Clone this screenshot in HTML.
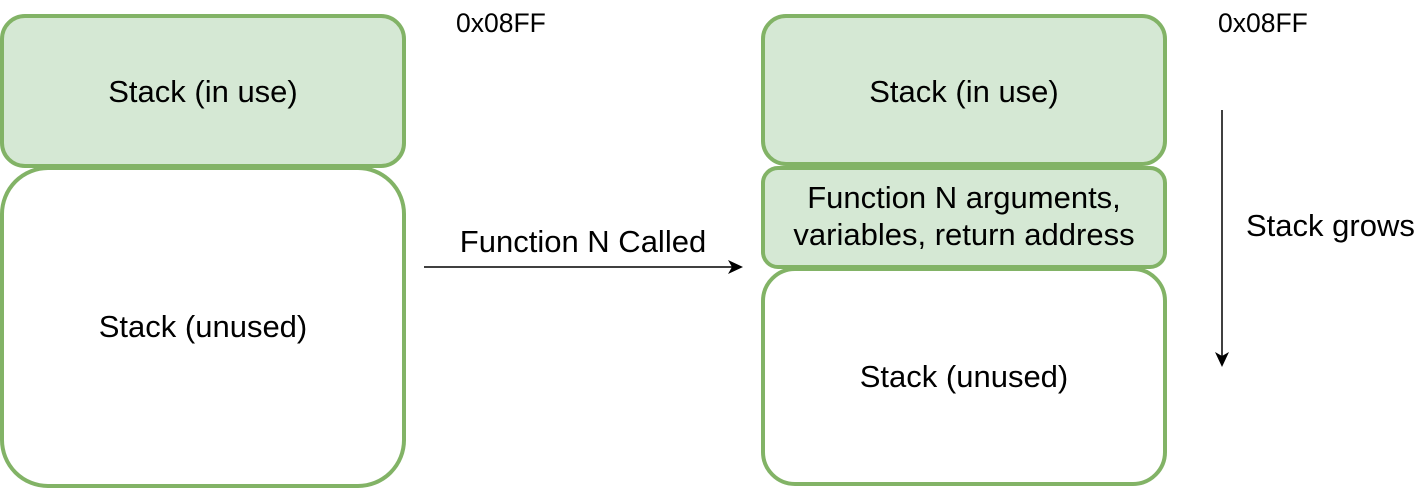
<!DOCTYPE html>
<html><head><style>
body{margin:0;background:#fff;}
svg text{font-family:"Liberation Sans",Arial,sans-serif;font-size:31px;fill:#000;}
</style></head><body>
<svg width="1422" height="490" xmlns="http://www.w3.org/2000/svg">
<g stroke="#82b366" stroke-width="4">
<rect x="2" y="168" width="402" height="318" rx="46" fill="#fff"/>
<rect x="2" y="16" width="402" height="150" rx="23" fill="#d5e8d4"/>
<rect x="763" y="269" width="402" height="215" rx="32" fill="#fff"/>
<rect x="763" y="168" width="402" height="99" rx="15" fill="#d5e8d4"/>
<rect x="763" y="16" width="402" height="148" rx="23" fill="#d5e8d4"/>
</g>
<text x="203" y="102" text-anchor="middle">Stack (in use)</text>
<text x="203" y="337" text-anchor="middle">Stack (unused)</text>
<text x="964" y="102" text-anchor="middle">Stack (in use)</text>
<text x="964" y="208" text-anchor="middle">Function N arguments,</text>
<text x="964" y="245" text-anchor="middle">variables, return address</text>
<text x="964" y="387" text-anchor="middle">Stack (unused)</text>
<text x="456" y="32" style="font-size:26.5px">0x08FF</text>
<text x="1218" y="32" style="font-size:26.5px">0x08FF</text>
<text x="583" y="252" text-anchor="middle">Function N Called</text>
<text x="1246" y="236">Stack grows</text>
<line x1="424" y1="267" x2="733" y2="267" stroke="#000" stroke-width="1.5"/>
<polygon points="743,267 728,260 732,267 728,274" fill="#000"/>
<line x1="1222" y1="110" x2="1222" y2="357" stroke="#000" stroke-width="1.5"/>
<polygon points="1222,367 1215,352 1222,356 1229,352" fill="#000"/>
</svg>
</body></html>
